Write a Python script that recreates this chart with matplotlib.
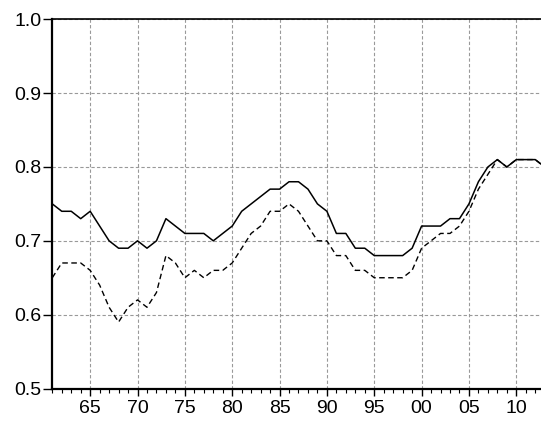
import matplotlib
matplotlib.use("Agg")
import matplotlib.pyplot as plt
from matplotlib.ticker import FixedLocator, MultipleLocator

plt.rcParams['font.family'] = ['Liberation Sans', 'DejaVu Sans']

years = list(range(1961, 2014))

series_solid = [
    0.75, 0.74, 0.74, 0.73, 0.74, 0.72, 0.70, 0.69, 0.69, 0.70,   # 1961-1970
    0.69, 0.70, 0.73, 0.72, 0.71, 0.71, 0.71, 0.70, 0.71, 0.72,   # 1971-1980
    0.74, 0.75, 0.76, 0.77, 0.77, 0.78, 0.78, 0.77, 0.75, 0.74,   # 1981-1990
    0.71, 0.71, 0.69, 0.69, 0.68, 0.68, 0.68, 0.68, 0.69, 0.72,   # 1991-2000
    0.72, 0.72, 0.73, 0.73, 0.75, 0.78, 0.80, 0.81, 0.80, 0.81,   # 2001-2010
    0.81, 0.81, 0.80,                                             # 2011-2013
]

series_dashed = [
    0.65, 0.67, 0.67, 0.67, 0.66, 0.64, 0.61, 0.59, 0.61, 0.62,   # 1961-1970
    0.61, 0.63, 0.68, 0.67, 0.65, 0.66, 0.65, 0.66, 0.66, 0.67,   # 1971-1980
    0.69, 0.71, 0.72, 0.74, 0.74, 0.75, 0.74, 0.72, 0.70, 0.70,   # 1981-1990
    0.68, 0.68, 0.66, 0.66, 0.65, 0.65, 0.65, 0.65, 0.66, 0.69,   # 1991-2000
    0.70, 0.71, 0.71, 0.72, 0.74, 0.77, 0.79, 0.81, 0.80, 0.81,   # 2001-2010
    0.81, 0.81, 0.80,                                             # 2011-2013
]

major_years = [1965, 1970, 1975, 1980, 1985, 1990, 1995, 2000, 2005, 2010]
major_labels = ["65", "70", "75", "80", "85", "90", "95", "00", "05", "10"]
y_ticks = [0.5, 0.6, 0.7, 0.8, 0.9, 1.0]
y_labels = ["0.5", "0.6", "0.7", "0.8", "0.9", "1.0"]

W, H = 541, 425
fig = plt.figure(figsize=(W / 100, H / 100), dpi=100)
left_px, right_px, top_px, bottom_px = 52.3, 544.7, 19.3, 388.5
ax = fig.add_axes([left_px / W, 1 - bottom_px / H,
                   (right_px - left_px) / W, (bottom_px - top_px) / H])

ax.plot(years, series_dashed, color='black', lw=1.0, ls=(0, (4, 2.5)))
ax.plot(years, series_solid, color='black', lw=1.1)

ax.set_xlim(1961, 2013)
ax.set_ylim(0.5, 1.0)

ax.xaxis.set_major_locator(FixedLocator(major_years))
ax.set_xticklabels(major_labels)
ax.xaxis.set_minor_locator(MultipleLocator(1))
ax.set_yticks(y_ticks)
ax.set_yticklabels(y_labels)

ax.grid(True, which='major', color='#999999', ls=(0, (3, 2)), lw=0.8)
ax.set_axisbelow(True)

ax.tick_params(axis='x', which='major', direction='out', length=5,
               width=1.0, labelsize=14, colors='black', pad=3)
ax.tick_params(axis='x', which='minor', direction='out', length=3, width=0.8)
ax.tick_params(axis='y', which='major', direction='out', length=6.5,
               width=1.0, labelsize=14, colors='black', pad=1.5)

ax.spines['left'].set_linewidth(1.6)
ax.spines['bottom'].set_linewidth(1.6)
ax.spines['top'].set_linewidth(1.2)
ax.spines['right'].set_visible(False)

fig.savefig("out.png", dpi=100)
